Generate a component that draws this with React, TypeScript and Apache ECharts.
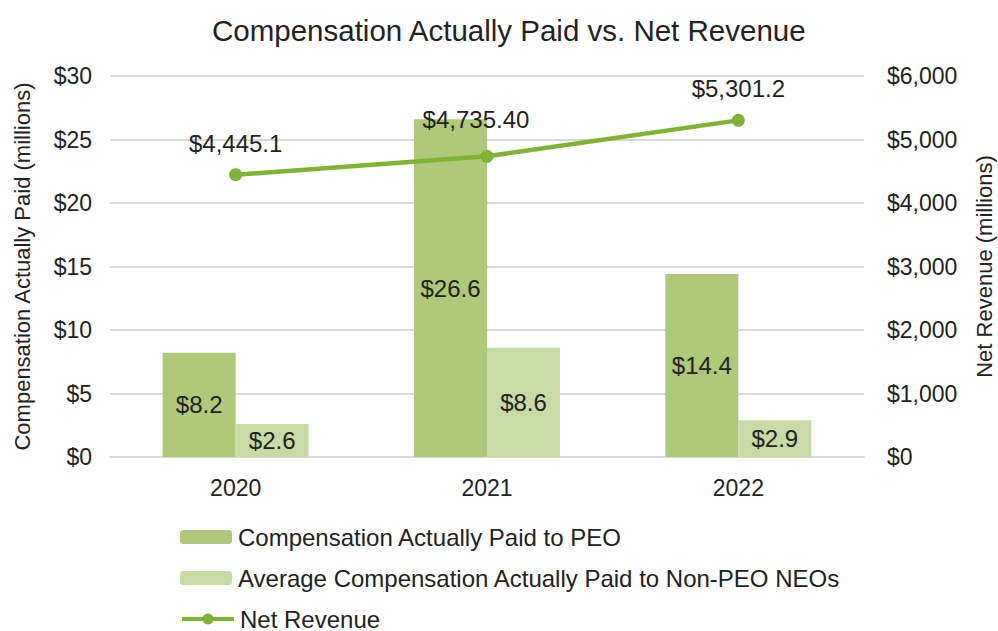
import React, { useEffect, useRef } from "react";
import * as echarts from "echarts";

const years = ["2020", "2021", "2022"];
const peoComp = [8.2, 26.6, 14.4];
const neoComp = [2.6, 8.6, 2.9];
const netRevenue = [4445.1, 4735.4, 5301.2];
const netRevenueLabels = ["$4,445.1", "$4,735.40", "$5,301.2"];
const leftTicks = ["$0", "$5", "$10", "$15", "$20", "$25", "$30"];
const seriesNames = [
  "Compensation Actually Paid to PEO",
  "Average Compensation Actually Paid to Non-PEO NEOs",
  "Net Revenue",
];

const FONT = "Liberation Sans, Arial, sans-serif";

export default function App() {
  const ref = useRef<HTMLDivElement>(null);
  useEffect(() => {
    if (!ref.current) return;
    const chart = echarts.init(ref.current, undefined, { renderer: "svg" });
    const legendTops = [525, 566, 607];
    chart.setOption({
      animation: false,
      textStyle: { fontFamily: FONT, color: "#222" },
      title: {
        text: "Compensation Actually Paid vs. Net Revenue",
        left: 207,
        top: 10,
        textStyle: { fontSize: 29.5, fontWeight: "normal", color: "#222", fontFamily: FONT },
      },
      grid: { left: 110, right: 134, top: 76, bottom: 174, outerBoundsMode: "none" },
      legend: seriesNames.map((n, i) => ({
        orient: "vertical",
        left: 180,
        top: legendTops[i],
        padding: 0,
        itemWidth: 52,
        itemHeight: 14,
        itemGap: 0,
        lineStyle: { width: 4 },
        textStyle: { fontSize: 24, lineHeight: 24, color: "#222", fontFamily: FONT, padding: [0, 0, 0, 1] },
        data: [n],
      })),
      xAxis: {
        type: "category",
        data: years,
        axisLine: { lineStyle: { color: "#d9d9d9", width: 2 } },
        axisTick: { show: false },
        axisLabel: { fontSize: 23, color: "#222", margin: 19 },
      },
      yAxis: [
        {
          type: "value",
          min: 0,
          max: 30,
          interval: 5,
          name: "Compensation Actually Paid (millions)",
          nameLocation: "middle",
          nameGap: 77,
          nameTextStyle: { fontSize: 22, color: "#222" },
          axisLabel: {
            fontSize: 23,
            color: "#222",
            margin: 18,
            formatter: (v: number) => leftTicks[Math.round(v / 5)],
          },
          splitLine: { lineStyle: { color: "#d9d9d9", width: 2 } },
          axisLine: { show: false },
        },
        {
          type: "value",
          min: 0,
          max: 6000,
          interval: 1000,
          name: "Net Revenue (millions)",
          nameLocation: "middle",
          nameGap: 109,
          nameRotate: 90,
          nameTextStyle: { fontSize: 22, color: "#222" },
          axisLabel: {
            fontSize: 23,
            color: "#222",
            margin: 23,
            formatter: (v: number) => "$" + v.toLocaleString("en-US"),
          },
          splitLine: { show: false },
          axisLine: { show: false },
        },
      ],
      series: [
        {
          name: seriesNames[0],
          type: "bar",
          data: peoComp,
          barWidth: 73,
          barGap: "0%",
          itemStyle: { color: "#afc97a" },
          label: {
            show: true,
            position: "inside",
            fontSize: 24,
            color: "#222",
            formatter: (p: any) => "$" + p.value.toFixed(1),
          },
        },
        {
          name: seriesNames[1],
          type: "bar",
          data: neoComp,
          barWidth: 73,
          barGap: "0%",
          itemStyle: { color: "#c9dba4" },
          label: {
            show: true,
            position: "inside",
            fontSize: 24,
            color: "#222",
            formatter: (p: any) => "$" + p.value.toFixed(1),
          },
        },
        {
          name: seriesNames[2],
          type: "line",
          yAxisIndex: 1,
          data: netRevenue.map((v, i) => ({
            value: v,
            label: i === 1 ? { offset: [-11, -5] } : {},
          })),
          symbol: "circle",
          symbolSize: 13,
          lineStyle: { color: "#82b234", width: 4.5 },
          itemStyle: { color: "#82b234" },
          label: {
            show: true,
            position: "top",
            distance: 13,
            fontSize: 24,
            color: "#222",
            formatter: (p: any) => netRevenueLabels[p.dataIndex],
          },
          z: 5,
        },
      ],
    });
    return () => chart.dispose();
  }, []);
  return (
    <div
      ref={ref}
      style={{ position: "absolute", left: 0, top: 0, width: 998, height: 631 }}
    />
  );
}
